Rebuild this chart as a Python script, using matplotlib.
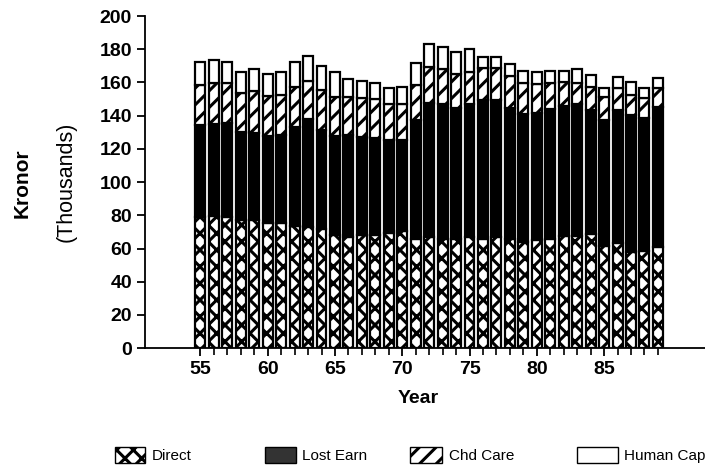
import matplotlib
matplotlib.use("Agg")
import matplotlib.pyplot as plt
from matplotlib.patches import Patch

plt.rcParams['font.family'] = ['Liberation Sans', 'DejaVu Sans']
plt.rcParams['hatch.linewidth'] = 2.2

years = list(range(55, 90))
direct = [79.1, 79.5, 79.0, 77.0, 77.0, 75.5, 75.5, 73.5, 73.1, 71.5,
          68.1, 66.7, 67.9, 68.1, 69.5, 70.5, 66.0, 66.7, 66.0, 66.0,
          66.7, 66.0, 66.7, 66.0, 64.0, 65.0, 65.5, 67.5, 67.5, 69.0,
          61.4, 63.4, 58.0, 58.5, 61.0]
lost_earn = [55.2, 55.5, 56.4, 53.3, 52.3, 52.2, 52.8, 59.4, 64.7, 59.8,
             59.6, 61.6, 59.4, 58.2, 55.8, 54.8, 71.3, 80.7, 81.0, 78.4,
             80.3, 83.4, 82.7, 78.4, 77.0, 76.4, 78.3, 78.3, 79.5, 74.4,
             75.9, 80.0, 82.4, 79.9, 84.4]
chd_care = [24.1, 24.8, 24.0, 23.5, 25.7, 24.3, 24.1, 24.1, 23.0, 24.1,
            23.7, 23.1, 23.1, 23.5, 21.7, 21.7, 21.1, 22.1, 20.9, 20.6,
            19.5, 19.1, 19.1, 19.5, 18.4, 17.6, 16.0, 14.6, 12.4, 13.6,
            14.1, 13.0, 12.0, 12.0, 11.0]
human_cap = [14.1, 13.7, 13.1, 12.7, 13.0, 13.0, 14.1, 15.5, 15.1, 14.5,
             15.1, 10.6, 10.4, 10.0, 9.4, 10.0, 13.5, 13.4, 13.6, 13.5,
             13.4, 7.0, 7.0, 7.0, 7.6, 7.5, 7.2, 6.6, 8.6, 7.5,
             5.4, 7.0, 8.0, 6.0, 6.6]

fig = plt.figure(figsize=(7.05, 4.73), dpi=100)
ax = fig.add_axes([0.206, 0.264, 0.794, 0.702])

w = 0.74
lw = 1.6
b1 = direct
b2 = [a + b for a, b in zip(b1, lost_earn)]
b3 = [a + b for a, b in zip(b2, chd_care)]
ax.bar(years, direct, w, color='white', edgecolor='black', hatch='xx', linewidth=lw)
ax.bar(years, lost_earn, w, bottom=b1, color='black', edgecolor='black', linewidth=lw)
ax.bar(years, chd_care, w, bottom=b2, color='white', edgecolor='black', hatch='//', linewidth=lw)
ax.bar(years, human_cap, w, bottom=b3, color='white', edgecolor='black', linewidth=lw)

ax.set_xlim(50.9, 92.5)
ax.set_ylim(0, 200)
ax.set_yticks(range(0, 201, 20))
ax.set_xticks(range(55, 90, 5))
ax.set_xticks(range(55, 90), minor=True)
ax.spines['top'].set_visible(False)
ax.spines['right'].set_visible(False)
ax.spines['left'].set_linewidth(1.3)
ax.spines['bottom'].set_linewidth(1.3)
ax.tick_params(axis='both', which='major', length=6, width=1.3, labelsize=14)
ax.tick_params(axis='x', which='minor', length=5, width=1.2)
for lab in ax.get_yticklabels() + ax.get_xticklabels():
    lab.set_fontweight('bold')

fig.text(0.032, 0.613, 'Kronor', rotation=90, ha='center', va='center',
         fontsize=15, fontweight='bold')
fig.text(0.094, 0.615, '(Thousands)', rotation=90, ha='center', va='center',
         fontsize=15.5)
fig.text(0.593, 0.158, 'Year', ha='center', va='center', fontsize=14, fontweight='bold')

handles = [
    Patch(facecolor='white', edgecolor='black', hatch='xx', label='Direct'),
    Patch(facecolor='#333333', edgecolor='black', label='Lost Earn'),
    Patch(facecolor='white', edgecolor='black', hatch='//', label='Chd Care'),
    Patch(facecolor='white', edgecolor='black', label='Human Cap'),
]
xs = [0.163, 0.376, 0.582, 0.818]
hl = [2.0, 2.0, 2.1, 2.7]
for h, x, l in zip(handles, xs, hl):
    fig.legend(handles=[h], loc='center left', bbox_to_anchor=(x, 0.038),
               frameon=False, fontsize=11, handlelength=l, handleheight=1.3,
               handletextpad=0.4, borderaxespad=0, borderpad=0)

fig.savefig('out.png', dpi=100)
